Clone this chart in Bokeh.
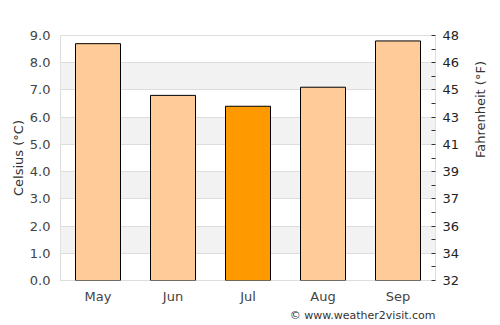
import math
from bokeh.plotting import figure
from bokeh.models import FixedTicker, LinearAxis, Title, ColumnDataSource, BoxAnnotation
from bokeh.embed import file_html
from bokeh.resources import INLINE

months = ["May", "Jun", "Jul", "Aug", "Sep"]
celsius = [8.7, 6.8, 6.4, 7.1, 8.8]
colors = ["#FFCC99", "#FFCC99", "#FF9900", "#FFCC99", "#FFCC99"]
c_ticks = [0, 1, 2, 3, 4, 5, 6, 7, 8, 9]
c_labels = ["0.0", "1.0", "2.0", "3.0", "4.0", "5.0", "6.0", "7.0", "8.0", "9.0"]
f_labels = ["32", "34", "36", "37", "39", "41", "43", "45", "46", "48"]
f_minor = [0.5, 1.5, 2.5, 3.5, 4.5, 5.5, 6.5, 7.5, 8.5]
bands = [(1, 2), (3, 4), (5, 6), (7, 8)]

FONT = "DejaVu Sans"

p = figure(x_range=months, y_range=(0, 9), width=500, height=325,
           output_backend="svg", toolbar_location=None,
           min_border_left=60, min_border_right=65, min_border_top=35, min_border_bottom=45)
p.x_range.range_padding = 0

for lo, hi in bands:
    p.add_layout(BoxAnnotation(bottom=lo, top=hi, fill_color="#f2f2f2", fill_alpha=1,
                               line_color=None, level="image"))

src = ColumnDataSource(dict(m=months, v=celsius, c=colors))
p.vbar(x="m", top="v", width=0.6, source=src, fill_color="c", line_color="black", line_width=1)

p.outline_line_color = "#dddddd"
p.xgrid.grid_line_color = None
p.ygrid.grid_line_color = "#dddddd"
p.ygrid.ticker = FixedTicker(ticks=c_ticks)

p.yaxis.ticker = FixedTicker(ticks=c_ticks)
p.yaxis.major_label_overrides = {t: l for t, l in zip(c_ticks, c_labels)}
p.yaxis.axis_label = "Celsius (°C)"
p.yaxis.axis_line_color = None
p.yaxis.major_tick_line_color = None
p.yaxis.minor_tick_line_color = None
p.yaxis.major_tick_out = 0
p.yaxis.major_tick_in = 0
p.yaxis.minor_tick_out = 0
p.yaxis.minor_tick_in = 0
p.yaxis.major_label_standoff = 10
p.yaxis.axis_label_standoff = 1

p.xaxis.axis_line_color = None
p.xaxis.major_tick_line_color = None
p.xaxis.major_tick_out = 0
p.xaxis.major_tick_in = 0
p.xaxis.major_label_standoff = 8

ry = LinearAxis(ticker=FixedTicker(ticks=c_ticks, minor_ticks=f_minor))
ry.major_label_overrides = {t: l for t, l in zip(c_ticks, f_labels)}
ry.axis_label = "Fahrenheit (°F)"
ry.axis_label_orientation = math.pi / 2
ry.axis_line_color = None
ry.major_tick_in = 4
ry.major_tick_out = 0
ry.minor_tick_in = 4
ry.minor_tick_out = 0
ry.major_tick_line_color = "#333333"
ry.minor_tick_line_color = "#333333"
ry.major_label_standoff = 7
ry.axis_label_standoff = 18
p.add_layout(ry, "right")

for ax in [p.xaxis[0], p.yaxis[0], ry]:
    ax.major_label_text_font = FONT
    ax.major_label_text_font_size = "13px"
    ax.major_label_text_color = "#444444"
    ax.axis_label_text_font = FONT
    ax.axis_label_text_font_size = "13px"
    ax.axis_label_text_font_style = "normal"
    ax.axis_label_text_color = "#333333"
ry.major_label_text_color = "#222222"

credit = Title(text="© www.weather2visit.com", align="right", text_font=FONT,
               text_font_size="11px", text_font_style="normal", text_color="#333333",
               offset=0, standoff=0)
p.add_layout(credit, "below")

open("out.html", "w").write(file_html(p, INLINE))
